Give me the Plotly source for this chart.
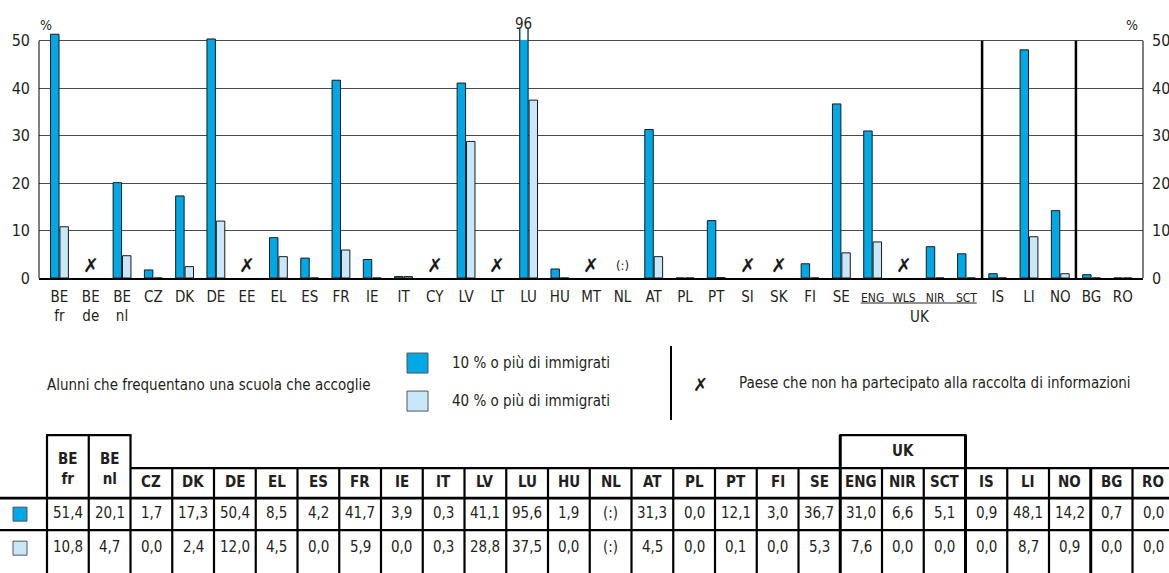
import plotly.graph_objects as go

# ---------------- data ----------------
categories = ["BE fr", "BE de", "BE nl", "CZ", "DK", "DE", "EE", "EL", "ES", "FR",
              "IE", "IT", "CY", "LV", "LT", "LU", "HU", "MT", "NL", "AT",
              "PL", "PT", "SI", "SK", "FI", "SE", "ENG", "WLS", "NIR", "SCT",
              "IS", "LI", "NO", "BG", "RO"]
pct_10 = [51.4, None, 20.1, 1.7, 17.3, 50.4, None, 8.5, 4.2, 41.7,
          3.9, 0.3, None, 41.1, None, 95.6, 1.9, None, None, 31.3,
          0.0, 12.1, None, None, 3.0, 36.7, 31.0, None, 6.6, 5.1,
          0.9, 48.1, 14.2, 0.7, 0.0]
pct_40 = [10.8, None, 4.7, 0.0, 2.4, 12.0, None, 4.5, 0.0, 5.9,
          0.0, 0.3, None, 28.8, None, 37.5, 0.0, None, None, 4.5,
          0.0, 0.1, None, None, 0.0, 5.3, 7.6, None, 0.0, 0.0,
          0.0, 8.7, 0.9, 0.0, 0.0]
non_participating = ["BE de", "EE", "CY", "LT", "MT", "SI", "SK", "WLS"]
not_available = ["NL"]
uk_members = ["ENG", "WLS", "NIR", "SCT"]
group_breaks_after = ["SCT", "NO"]
y_ticks = [0, 10, 20, 30, 40, 50]
legend_labels = ["10 % o più di immigrati", "40 % o più di immigrati"]
legend_title = "Alunni che frequentano una scuola che accoglie"
x_note = "Paese che non ha partecipato alla raccolta di informazioni"
uk_label = "UK"

# ---------------- style ----------------
BLUE = "#00A9E6"
LIGHT = "#C8E8F9"
EDGE = "#1a1a1a"
TXT = "#231f20"
FONT = "DejaVu Sans Condensed, DejaVu Sans, sans-serif"
W, H = 1169, 573
L, R, T50, B = 39, 1143, 41, 278          # pixel box of the 0..50 scale
Y_MAX = 52.5
T = B - Y_MAX * (B - T50) / 50.0           # top of plotting area (bars may overshoot 50)


def px(x):
    return (x - L) / (R - L)


def py(y):
    return (B - y) / (B - T)


def txt(x, y, text, size=15, xanchor="center", yanchor="middle", xref="paper", yref="paper",
        family=FONT, color=TXT, **kw):
    d = dict(x=x, y=y, text=text, xref=xref, yref=yref, xanchor=xanchor, yanchor=yanchor,
             showarrow=False, font=dict(size=size, family=family, color=color))
    d.update(kw)
    return d


idx = list(range(len(categories)))
ticktext = []
for c in categories:
    t = c.replace(" ", "<br>")
    if c in uk_members:
        t = '<span style="font-size:12px">' + t + '</span>'
    ticktext.append(t)

fig = go.Figure()
fig.add_bar(x=idx, y=pct_10, name=legend_labels[0],
            marker=dict(color=BLUE, line=dict(color=EDGE, width=1)))
fig.add_bar(x=idx, y=pct_40, name=legend_labels[1],
            marker=dict(color=LIGHT, line=dict(color=EDGE, width=1)))
fig.add_scatter(x=[0], y=[0], yaxis="y2", mode="markers",
                marker=dict(opacity=0), showlegend=False, hoverinfo="skip")

fig.update_layout(
    width=W, height=H,
    margin=dict(l=L, r=W - R, t=T, b=H - B, pad=0, autoexpand=False),
    paper_bgcolor="white", plot_bgcolor="white",
    barmode="group", bargap=0.4, bargroupgap=0.1, showlegend=False,
    font=dict(family=FONT, size=15, color=TXT),
    xaxis=dict(range=[-0.655, len(categories) - 1 + 0.645], tickvals=idx, ticktext=ticktext,
               showgrid=False, zeroline=False, showline=True, linecolor="black", linewidth=1.5,
               automargin=False,
               ticks="", ticklabelstandoff=4, tickfont=dict(size=15, family=FONT, color=TXT)),
    yaxis=dict(range=[0, Y_MAX], tickvals=y_ticks, showgrid=True, gridcolor="#4a4a4a", gridwidth=1,
               zeroline=False, showline=False, automargin=False,
               ticks="", ticklabelstandoff=8, tickfont=dict(size=16, family=FONT, color=TXT)),
    yaxis2=dict(overlaying="y", side="right", range=[0, Y_MAX], tickvals=y_ticks, showgrid=False,
                zeroline=False, showline=False, automargin=False,
                ticks="", ticklabelstandoff=8, tickfont=dict(size=16, family=FONT, color=TXT)),
)

shapes = []
ann = []

# vertical axis lines limited to the 0..50 scale
for xp in (0, 1):
    shapes.append(dict(type="line", xref="paper", yref="y", x0=xp, x1=xp, y0=0, y1=y_ticks[-1],
                       line=dict(color="black", width=1)))

# group separators
for c in group_breaks_after:
    xs = categories.index(c) + 0.5
    shapes.append(dict(type="line", xref="x", yref="y", x0=xs, x1=xs, y0=0, y1=y_ticks[-1],
                       line=dict(color="black", width=2.5)))

# non-participating / not available markers
for c in non_participating:
    ann.append(txt(categories.index(c), 0, "<b>✗</b>", size=19, xref="x", yref="y",
                   yanchor="bottom", family="DejaVu Sans", color="#1a1a1a"))
for c in not_available:
    ann.append(txt(categories.index(c), 0, "(:)", size=13, xref="x", yref="y",
                   yanchor="bottom", yshift=3))

# off-scale value label with broken bar top
for i, v in enumerate(pct_10):
    if v is not None and v > Y_MAX:
        x0b, x1b = i - 0.285, i - 0.015
        shapes.append(dict(type="rect", xref="x", yref="y", x0=x0b + 0.03, x1=x1b - 0.03,
                           y0=y_ticks[-1] + 0.2, y1=Y_MAX, fillcolor="white",
                           line=dict(width=0), layer="above"))
        ann.append(txt(i, py(24), str(round(v)), xref="x", xshift=-5))

# UK grouping under axis labels
i_eng, i_sct = categories.index(uk_members[0]), categories.index(uk_members[-1])
shapes.append(dict(type="line", xref="x", yref="paper", x0=i_eng - 0.38, x1=i_sct + 0.33,
                   y0=py(303), y1=py(303), line=dict(color=TXT, width=1)))
ann.append(txt((i_eng + i_sct) / 2, py(317), uk_label, xref="x"))

# % labels
ann.append(txt(px(46), py(25), "%", size=14))
ann.append(txt(px(1132), py(25), "%", size=14))

# ---------------- legend ----------------
ann.append(txt(px(45), py(385), legend_title, xanchor="left"))
for k, (col, yc) in enumerate([(BLUE, 363), (LIGHT, 401)]):
    shapes.append(dict(type="rect", xref="paper", yref="paper", x0=px(407), x1=px(428),
                       y0=py(yc - 10), y1=py(yc + 10), fillcolor=col,
                       line=dict(color="#555555", width=1)))
    ann.append(txt(px(450), py(yc), legend_labels[k], xanchor="left"))
shapes.append(dict(type="line", xref="paper", yref="paper", x0=px(671), x1=px(671),
                   y0=py(346), y1=py(420), line=dict(color="black", width=2)))
ann.append(txt(px(700), py(384), "<b>✗</b>", size=18, family="DejaVu Sans", color="#1a1a1a"))
ann.append(txt(px(737), py(383), x_note, xanchor="left"))

# ---------------- table ----------------
tab_cats = [c for c in categories if c not in non_participating]
tab_10 = [pct_10[categories.index(c)] for c in tab_cats]
tab_40 = [pct_40[categories.index(c)] for c in tab_cats]


def fmt(v):
    return "(:)" if v is None else f"{v:.1f}".replace(".", ",")


X0, CW = 47, 41.75
Y_TOP_BOX, Y_TOP, Y_HEAD, Y_SEP, Y_BOT = 435, 468, 498, 530, 590
n = len(tab_cats)
edges = [X0 + k * CW for k in range(n + 1)]
k_uk0 = tab_cats.index("ENG")
k_uk1 = tab_cats.index("SCT") + 1
k_thick = [k_uk0, k_uk1, tab_cats.index("NO") + 1]
boxed = [k for k, c in enumerate(tab_cats) if " " in c]  # BE fr / BE nl

for k, xe in enumerate(edges):
    top = Y_TOP_BOX if (k <= len(boxed) or k in (k_uk0, k_uk1)) else Y_TOP
    w = 3.0 if k in k_thick else 2.2
    shapes.append(dict(type="line", xref="paper", yref="paper", x0=px(xe), x1=px(xe),
                       y0=py(top), y1=py(Y_BOT), line=dict(color="black", width=w)))
shapes.append(dict(type="line", xref="paper", yref="paper", x0=px(edges[0] - 1), x1=px(edges[len(boxed)] + 1),
                   y0=py(Y_TOP_BOX), y1=py(Y_TOP_BOX), line=dict(color="black", width=2.2)))
shapes.append(dict(type="line", xref="paper", yref="paper", x0=px(edges[k_uk0] - 1), x1=px(edges[k_uk1] + 1),
                   y0=py(Y_TOP_BOX), y1=py(Y_TOP_BOX), line=dict(color="black", width=2.2)))
shapes.append(dict(type="line", xref="paper", yref="paper", x0=px(edges[len(boxed)]), x1=px(W + 5),
                   y0=py(Y_TOP), y1=py(Y_TOP), line=dict(color="black", width=2.2)))
for yl, wl in ((Y_HEAD, 2.8), (Y_SEP, 2.2)):
    shapes.append(dict(type="line", xref="paper", yref="paper", x0=px(0), x1=px(W + 5),
                       y0=py(yl), y1=py(yl), line=dict(color="black", width=wl)))

for k, c in enumerate(tab_cats):
    xc = px(X0 + (k + 0.5) * CW)
    if " " in c:
        ann.append(txt(xc, py(469), "<b>" + c.replace(" ", "<br>") + "</b>"))
    else:
        ann.append(txt(xc, py(482), "<b>" + c + "</b>"))
    ann.append(txt(xc, py(513), fmt(tab_10[k])))
    ann.append(txt(xc, py(547), fmt(tab_40[k])))

ann.append(txt(px((edges[k_uk0] + edges[k_uk1]) / 2), py(451), "<b>" + uk_label + "</b>"))

for col, yc in ((BLUE, 514), (LIGHT, 548)):
    shapes.append(dict(type="rect", xref="paper", yref="paper", x0=px(13), x1=px(27),
                       y0=py(yc - 7), y1=py(yc + 7), fillcolor=col,
                       line=dict(color="#555555", width=1)))

fig.update_layout(shapes=shapes, annotations=ann)
fig.write_html("out.html", config={"displayModeBar": False},
               post_script="document.body.style.margin='0px';document.body.style.overflow='hidden';")
